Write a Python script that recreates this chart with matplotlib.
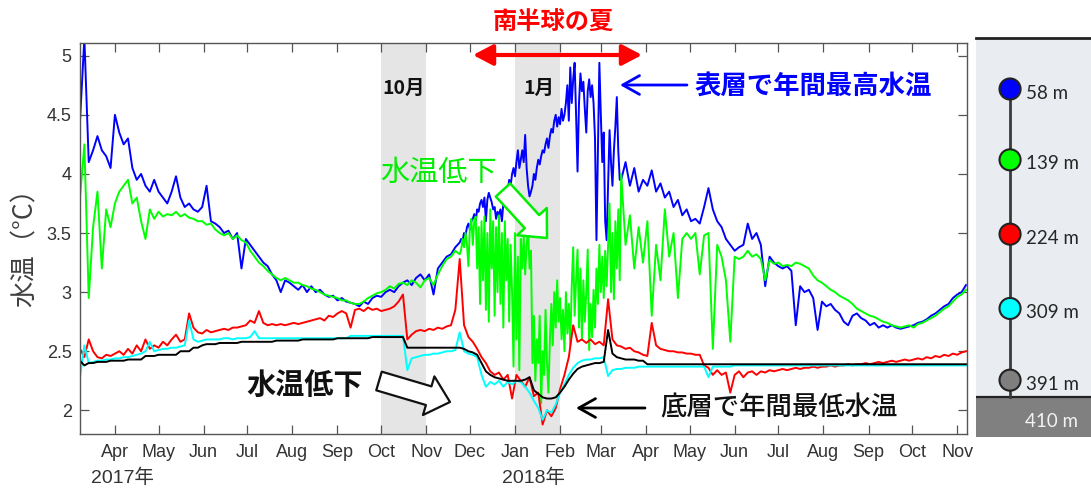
import numpy as np
import matplotlib
matplotlib.use("Agg")
import matplotlib.pyplot as plt
import matplotlib.dates as mdates
from matplotlib.transforms import Affine2D
from matplotlib.patches import FancyArrowPatch

plt.rcParams["font.family"] = ["Liberation Sans", "Noto Sans CJK JP"]

# ---- data: mooring temperature record, one value every 3 days ----
dates = np.arange("2017-03-08", "2018-11-08", 3, dtype="datetime64[D]")

temp_58m = [
    4.45, 5.15, 4.1, 4.2, 4.32, 4.2, 4.15, 4.05, 4.5, 4.35,
    4.25, 4.3, 4.05, 3.95, 4.0, 3.9, 3.85, 3.95, 3.85, 3.8,
    3.75, 3.85, 3.98, 3.8, 3.72, 3.75, 3.7, 3.68, 3.72, 3.9,
    3.6, 3.58, 3.55, 3.5, 3.52, 3.45, 3.5, 3.2, 3.45, 3.4,
    3.35, 3.3, 3.25, 3.22, 3.15, 3.1, 3.0, 3.1, 3.08, 3.05,
    3.02, 3.06, 3.0, 3.05, 3.0, 3.02, 2.98, 2.96, 2.97, 2.93,
    2.95, 2.92, 2.91, 2.9, 2.88, 2.92, 2.9, 2.95, 2.97, 2.96,
    3.0, 3.02, 3.0, 3.05, 3.08, 3.1, 3.06, 3.12, 3.15, 3.1,
    3.15, 2.98, 3.2, 3.25, 3.3, 3.32, 3.38, 3.45, 3.5, 3.58,
    3.62, 3.7, 3.78, 3.6, 3.82, 3.85, 3.8, 3.9, 3.85, 3.92,
    4.0, 4.1, 4.3, 3.85, 4.05, 4.15, 4.25, 4.2, 4.35, 4.5,
    4.45, 4.55, 4.75, 4.9, 4.05, 4.8, 4.3, 4.75, 3.5, 4.93,
    4.2, 3.45, 4.3, 4.65, 3.95, 4.1, 3.9, 4.05, 3.85, 3.95,
    3.9, 4.03, 3.85, 3.92, 3.8, 3.85, 3.72, 3.78, 3.65, 3.7,
    3.6, 3.62, 3.58, 3.72, 3.88, 3.7, 3.6, 3.55, 3.45, 3.4,
    3.35, 3.38, 3.4, 3.58, 3.45, 3.5, 3.4, 3.05, 3.3, 3.25,
    3.22, 3.2, 3.22, 3.18, 2.72, 3.05, 3.0, 3.02, 2.95, 2.68,
    2.92, 2.88, 2.9, 2.85, 2.82, 2.75, 2.72, 2.8, 2.82, 2.78,
    2.76, 2.72, 2.74, 2.7, 2.72, 2.7, 2.72, 2.7, 2.69, 2.7,
    2.71, 2.72, 2.74, 2.75, 2.77, 2.8, 2.82, 2.85, 2.88, 2.9,
    2.95, 2.98, 3.0, 3.06,
]

temp_139m = [
    3.8, 4.25, 2.95, 3.55, 3.85, 3.2, 3.7, 3.55, 3.75, 3.85,
    3.9, 3.95, 3.75, 3.8, 3.6, 3.45, 3.7, 3.62, 3.68, 3.64,
    3.66, 3.65, 3.68, 3.64, 3.66, 3.63, 3.62, 3.6, 3.6, 3.57,
    3.58, 3.53, 3.5, 3.48, 3.5, 3.45, 3.48, 3.44, 3.42, 3.35,
    3.3, 3.25, 3.22, 3.18, 3.15, 3.12, 3.1, 3.12, 3.1, 3.08,
    3.08, 3.06, 3.05, 3.03, 3.02, 3.0, 2.98, 2.97, 2.96, 2.95,
    2.93, 2.93, 2.91, 2.9, 2.9, 2.92, 2.95, 2.97, 2.99, 3.0,
    3.02, 3.05, 3.03, 3.07, 3.08, 3.06, 3.1, 3.08, 3.04, 3.1,
    3.12, 3.06, 3.15, 3.22, 3.28, 3.3, 3.35, 3.42, 3.45, 3.3,
    3.45, 3.25, 2.85, 3.5, 2.6, 3.75, 3.0, 3.6, 2.9, 3.55,
    2.35, 3.7, 3.2, 3.8, 2.9, 2.5, 2.2, 2.6, 2.1, 2.4,
    2.95, 2.3, 2.85, 2.5, 3.1, 2.7, 3.2, 2.9, 3.35, 3.0,
    3.45, 3.1, 3.6, 3.3, 4.0, 3.4, 3.65, 3.2, 3.55, 3.25,
    3.6, 2.8, 3.4, 3.1, 3.7, 3.3, 3.5, 2.95, 3.45, 3.5,
    3.45, 3.5, 3.15, 3.48, 3.5, 2.52, 3.4, 3.3, 3.1, 2.58,
    3.3, 3.28, 3.3, 3.35, 3.3, 3.32, 3.28, 3.1, 3.27, 3.24,
    3.25, 3.22, 3.23, 3.22, 3.25, 3.24, 3.22, 3.2, 3.14, 3.1,
    3.08, 3.05, 3.02, 3.0, 2.97, 2.95, 2.93, 2.9, 2.86, 2.84,
    2.82, 2.8, 2.79, 2.77, 2.75, 2.74, 2.72, 2.71, 2.7, 2.71,
    2.72, 2.7, 2.73, 2.74, 2.76, 2.78, 2.8, 2.83, 2.86, 2.88,
    2.92, 2.96, 2.98, 3.02,
]

# daily values through the austral summer, 2017-11-24 .. 2018-03-14
summer_dates = np.arange("2017-11-24", "2018-03-15", dtype="datetime64[D]")

summer_58m = [
    3.42, 3.45, 3.44, 3.5, 3.48, 3.55, 3.58, 3.53, 3.6, 3.62,
    3.66, 3.6, 3.7, 3.68, 3.75, 3.78, 3.72, 3.8, 3.6, 3.78,
    3.84, 3.8, 3.76, 3.7, 3.72, 3.62, 3.68, 3.65, 3.7, 3.6,
    3.75, 3.82, 3.88, 3.85, 3.95, 3.9, 4.0, 4.05, 3.98, 4.1,
    4.2, 4.05, 4.12, 4.2, 4.1, 4.33, 4.05, 3.9, 3.81, 3.85,
    3.9, 4.0, 3.95, 4.05, 4.12, 4.08, 4.15, 4.2, 4.18, 4.25,
    4.3, 4.22, 4.32, 4.38, 4.35, 4.45, 4.5, 4.4, 4.48, 4.42,
    4.55, 4.45, 4.5, 4.6, 4.75, 4.45, 4.9, 4.6, 4.8, 4.94,
    4.5, 4.02, 4.6, 4.85, 4.7, 4.78, 4.55, 4.35, 4.7, 4.8,
    4.65, 4.75, 4.6, 4.3, 3.44, 4.2, 4.94, 4.5, 4.1, 4.35,
    3.6, 3.44, 3.9, 4.37, 4.1, 3.9, 4.2, 4.4, 4.65, 4.2,
    3.95,
]

summer_139m = [
    3.32, 3.36, 3.45, 3.38, 3.5, 3.4, 3.22, 3.55, 3.62, 3.4,
    3.6, 3.64, 3.2, 3.55, 2.9, 3.6, 3.1, 3.64, 2.85, 3.5,
    2.75, 3.7, 3.2, 3.6, 2.8, 3.55, 3.0, 3.65, 2.9, 3.5,
    2.7, 3.6, 3.1, 3.45, 2.75, 3.4, 3.0, 2.37, 3.5, 2.6,
    3.3, 2.34, 3.45, 3.2, 3.47, 3.15, 3.4, 3.52, 3.2, 3.35,
    2.4, 2.8, 2.25, 2.6, 2.4, 2.8, 2.06, 2.5, 2.3, 2.85,
    2.4, 2.15, 2.6, 2.9, 2.55, 3.0, 2.7, 3.1, 2.75, 2.95,
    2.6, 2.85, 2.5, 3.0, 2.65, 2.9, 2.55, 3.05, 3.38, 2.8,
    3.1, 3.36, 2.7, 3.2, 2.6, 3.1, 2.75, 3.0, 3.36, 2.51,
    2.9, 2.62, 3.02, 2.7, 3.2, 2.9, 3.4, 3.0, 3.3, 2.95,
    3.35, 3.05, 3.4, 3.75, 3.0, 3.5, 2.94, 3.6, 3.2, 3.7,
    3.1,
]

temp_224m = [
    2.52, 2.45, 2.6, 2.5, 2.45, 2.44, 2.47, 2.46, 2.48, 2.5,
    2.47, 2.52, 2.48, 2.55, 2.5, 2.6, 2.52, 2.55, 2.53, 2.58,
    2.55, 2.6, 2.64, 2.58, 2.6, 2.82, 2.7, 2.66, 2.65, 2.68,
    2.66, 2.67, 2.68, 2.69, 2.68, 2.7, 2.7, 2.71, 2.72, 2.76,
    2.74, 2.84, 2.74, 2.72, 2.73, 2.72, 2.73, 2.72, 2.73, 2.74,
    2.73, 2.74, 2.75, 2.76, 2.77, 2.78, 2.76, 2.8, 2.79, 2.82,
    2.84, 2.82, 2.7, 2.85, 2.86, 2.84, 2.87, 2.85, 2.86, 2.84,
    2.85, 2.86, 2.88, 2.92, 2.98, 2.6, 2.64, 2.67, 2.68, 2.67,
    2.69, 2.68, 2.7, 2.69, 2.71, 2.72, 2.85, 3.28, 2.72, 2.62,
    2.58, 2.52, 2.45, 2.4, 2.33, 2.3, 2.32, 2.26, 2.3, 2.1,
    2.3, 2.25, 2.2, 2.28, 2.12, 2.15, 1.88, 2.0, 1.95, 2.02,
    2.18, 2.3, 2.45, 2.72, 2.58, 2.6, 2.57, 2.6, 2.56, 2.58,
    2.55, 2.94, 2.6, 2.55, 2.54, 2.52, 2.53, 2.5, 2.49, 2.47,
    2.46, 2.74, 2.55, 2.52, 2.51, 2.5, 2.5, 2.49, 2.49, 2.48,
    2.48, 2.47, 2.47, 2.38, 2.36, 2.3, 2.34, 2.3, 2.32, 2.15,
    2.3, 2.33, 2.28, 2.32, 2.33, 2.3, 2.33, 2.32, 2.34, 2.33,
    2.34, 2.35, 2.34, 2.35, 2.36, 2.35, 2.36, 2.36, 2.37, 2.36,
    2.37, 2.37, 2.38, 2.37, 2.38, 2.38, 2.39, 2.38, 2.39, 2.39,
    2.4, 2.39, 2.4, 2.41, 2.4, 2.41, 2.42, 2.41, 2.42, 2.43,
    2.42, 2.43, 2.44, 2.43, 2.45, 2.44, 2.46, 2.45, 2.47, 2.46,
    2.48, 2.47, 2.49, 2.5,
]

temp_309m = [
    2.28, 2.55, 2.4, 2.41, 2.42, 2.42, 2.43, 2.43, 2.44, 2.44,
    2.45, 2.45, 2.46, 2.47, 2.48, 2.5, 2.58, 2.5, 2.51, 2.52,
    2.52, 2.53, 2.53, 2.54, 2.55, 2.76, 2.6, 2.58, 2.59, 2.6,
    2.6, 2.6, 2.6, 2.61, 2.61, 2.6, 2.61, 2.61, 2.61, 2.62,
    2.67, 2.61, 2.61, 2.61, 2.61, 2.61, 2.61, 2.61, 2.61, 2.61,
    2.61, 2.61, 2.61, 2.61, 2.61, 2.61, 2.61, 2.61, 2.61, 2.61,
    2.61, 2.61, 2.63, 2.63, 2.63, 2.63, 2.63, 2.63, 2.63, 2.63,
    2.63, 2.63, 2.63, 2.63, 2.63, 2.34, 2.44, 2.45, 2.46, 2.47,
    2.47, 2.48, 2.48, 2.49, 2.5, 2.5, 2.51, 2.66, 2.5, 2.48,
    2.47, 2.45, 2.3, 2.2, 2.24, 2.22, 2.25, 2.2, 2.24, 2.22,
    2.25, 2.24, 2.2, 2.15, 2.08, 2.02, 1.92, 2.0, 1.98, 2.05,
    2.15, 2.22, 2.3, 2.36, 2.4, 2.42, 2.43, 2.43, 2.44, 2.44,
    2.45, 2.29, 2.34, 2.35, 2.35, 2.36, 2.36, 2.36, 2.37, 2.37,
    2.37, 2.37, 2.37, 2.37, 2.37, 2.37, 2.37, 2.37, 2.37, 2.37,
    2.37, 2.37, 2.37, 2.37, 2.28, 2.37, 2.37, 2.37, 2.37, 2.37,
    2.38, 2.38, 2.38, 2.38, 2.38, 2.38, 2.38, 2.38, 2.38, 2.38,
    2.38, 2.38, 2.38, 2.38, 2.38, 2.38, 2.38, 2.38, 2.38, 2.38,
    2.38, 2.38, 2.38, 2.38, 2.38, 2.38, 2.38, 2.38, 2.38, 2.38,
    2.38, 2.38, 2.38, 2.38, 2.38, 2.38, 2.38, 2.38, 2.38, 2.38,
    2.38, 2.38, 2.38, 2.38, 2.38, 2.38, 2.38, 2.38, 2.38, 2.38,
    2.38, 2.38, 2.38, 2.38,
]

temp_391m = [
    2.42, 2.38, 2.4, 2.4, 2.41, 2.41, 2.41, 2.42, 2.42, 2.42,
    2.42, 2.43, 2.43, 2.43, 2.43, 2.46, 2.46, 2.46, 2.47, 2.47,
    2.47, 2.47, 2.47, 2.5, 2.5, 2.5, 2.53, 2.53, 2.55, 2.56,
    2.56, 2.56, 2.57, 2.57, 2.57, 2.57, 2.57, 2.58, 2.58, 2.58,
    2.58, 2.58, 2.58, 2.58, 2.58, 2.59, 2.59, 2.59, 2.59, 2.59,
    2.59, 2.6, 2.6, 2.6, 2.6, 2.6, 2.6, 2.6, 2.6, 2.61,
    2.61, 2.61, 2.61, 2.61, 2.61, 2.61, 2.61, 2.62, 2.62, 2.62,
    2.62, 2.62, 2.62, 2.62, 2.62, 2.53, 2.53, 2.53, 2.53, 2.53,
    2.53, 2.53, 2.53, 2.53, 2.53, 2.53, 2.53, 2.53, 2.52, 2.5,
    2.49, 2.47, 2.4, 2.33, 2.3, 2.28, 2.27, 2.26, 2.25, 2.25,
    2.25, 2.25, 2.26, 2.28, 2.17, 2.14, 2.11, 2.1, 2.1, 2.11,
    2.15, 2.2, 2.26, 2.31, 2.35, 2.37, 2.38, 2.39, 2.4, 2.4,
    2.41, 2.68, 2.48, 2.45, 2.44, 2.43, 2.43, 2.43, 2.42, 2.42,
    2.39, 2.39, 2.39, 2.39, 2.39, 2.39, 2.39, 2.39, 2.39, 2.39,
    2.39, 2.39, 2.39, 2.39, 2.39, 2.39, 2.39, 2.39, 2.39, 2.39,
    2.39, 2.39, 2.39, 2.39, 2.39, 2.39, 2.39, 2.39, 2.39, 2.39,
    2.39, 2.39, 2.39, 2.39, 2.39, 2.39, 2.39, 2.39, 2.39, 2.39,
    2.39, 2.39, 2.39, 2.39, 2.39, 2.39, 2.39, 2.39, 2.39, 2.39,
    2.39, 2.39, 2.39, 2.39, 2.39, 2.39, 2.39, 2.39, 2.39, 2.39,
    2.39, 2.39, 2.39, 2.39, 2.39, 2.39, 2.39, 2.39, 2.39, 2.39,
    2.39, 2.39, 2.39, 2.39,
]

depths = [58, 139, 224, 309, 391]
seabed_depth = 410
line_colors = ["#0000ff", "#00ff00", "#ff0000", "#00ffff", "#000000"]
marker_colors = ["#0000ff", "#00ff00", "#ff0000", "#00ffff", "#7f7f7f"]
shaded_months = [("2017-10-01", "2017-11-01"), ("2018-01-01", "2018-02-01")]
yticks = [2, 2.5, 3, 3.5, 4, 4.5, 5]


def with_daily(coarse, daily):
    """Replace the 3-day values inside the summer window by the daily ones."""
    c = np.asarray(coarse)
    before = dates < summer_dates[0]
    after = dates > summer_dates[-1]
    t = np.concatenate([dates[before], summer_dates, dates[after]])
    v = np.concatenate([c[before], np.asarray(daily), c[after]])
    return t, v


series = [
    with_daily(temp_58m, summer_58m),
    with_daily(temp_139m, summer_139m),
    (dates, temp_224m),
    (dates, temp_309m),
    (dates, temp_391m),
]

# ---- figure ----
W, H = 1091, 488
fig = plt.figure(figsize=(W / 100, H / 100), dpi=100)
px = Affine2D().scale(1, -1).translate(0, H)  # top-left pixel coordinates

ax = fig.add_axes([80 / W, 1 - 434 / H, 886.7 / W, 391.3 / H])
for a, b in shaded_months:
    ax.axvspan(np.datetime64(a), np.datetime64(b), color="#e5e5e5", lw=0, zorder=0)

for (t, v), col in zip(series, line_colors):
    ax.plot(t, v, color=col, lw=1.4)

ax.set_xlim(np.datetime64("2017-03-08"), np.datetime64("2018-11-07T12:00"))
ax.set_ylim(1.8, 5.11)
ax.set_yticks(yticks)
ax.yaxis.set_major_formatter(plt.FormatStrFormatter("%g"))
ax.xaxis.set_major_locator(mdates.MonthLocator())
ax.xaxis.set_major_formatter(mdates.DateFormatter("%b"))
ax.tick_params(direction="in", length=6.5, width=0.9, color="#555555",
               labelcolor="#333333", labelsize=13, top=True, right=True)
ax.tick_params(axis="x", pad=7)
ax.tick_params(axis="y", pad=6)
for s in ax.spines.values():
    s.set_color("#555555")
    s.set_linewidth(1.0)

cjk = ["Noto Sans CJK JP"]
fig.text(25, 241, "水温（°C）", transform=px, rotation=90, ha="center", va="center",
         fontsize=19, color="#404040", family=cjk)
fig.text(122.5, 477.5, "2017年", transform=px, ha="center", va="center",
         fontsize=14, color="#333333")
fig.text(533.5, 477.5, "2018年", transform=px, ha="center", va="center",
         fontsize=14, color="#333333")

# annotations
fig.text(553, 23, "南半球の夏", transform=px, ha="center", va="center",
         fontsize=17.5, color="#ff0000", fontweight="bold", family=cjk)
fig.add_artist(FancyArrowPatch((473, 55), (642, 55), transform=px,
                               arrowstyle="<|-|>,head_length=0.8,head_width=0.42",
                               mutation_scale=15, color="#ff0000", lw=3,
                               shrinkA=0, shrinkB=0))
fig.text(404, 88, "10月", transform=px, ha="center", va="center",
         fontsize=14, fontweight="bold", color="#111111", family=cjk)
fig.text(539, 88, "1月", transform=px, ha="center", va="center",
         fontsize=14, fontweight="bold", color="#111111", family=cjk)

fig.add_artist(FancyArrowPatch((687, 85), (620, 85), transform=px,
                               arrowstyle="->,head_length=0.8,head_width=0.45",
                               mutation_scale=15, color="#0000ff", lw=2,
                               shrinkA=0, shrinkB=0))
fig.text(695, 86, "表層で年間最高水温", transform=px, ha="left", va="center",
         fontsize=19, fontweight="bold", color="#0000ff", family=cjk)

fig.add_artist(FancyArrowPatch((645, 408), (576, 408), transform=px,
                               arrowstyle="->,head_length=0.8,head_width=0.45",
                               mutation_scale=15, color="#000000", lw=2,
                               shrinkA=0, shrinkB=0))
fig.text(660, 408, "底層で年間最低水温", transform=px, ha="left", va="center",
         fontsize=19, fontweight="medium", color="#111111", family=cjk)

fig.text(438, 172.5, "水温低下", transform=px, ha="center", va="center",
         fontsize=21, color="#00ee00", family=cjk)
fig.add_artist(FancyArrowPatch((503, 190), (547, 238), transform=px,
                               arrowstyle="simple,head_length=0.8,head_width=1.45,tail_width=0.7",
                               mutation_scale=20, fc="white", ec="#00ee00", lw=1.8,
                               shrinkA=0, shrinkB=0))

fig.text(304.5, 385, "水温低下", transform=px, ha="center", va="center",
         fontsize=21, fontweight="bold", color="#111111", family=cjk)
fig.add_artist(FancyArrowPatch((379, 381), (450, 402), transform=px,
                               arrowstyle="simple,head_length=0.8,head_width=1.45,tail_width=0.7",
                               mutation_scale=20, fc="white", ec="#111111", lw=1.6,
                               shrinkA=0, shrinkB=0))

# ---- mooring diagram ----
ax2 = fig.add_axes([976 / W, 1 - 437 / H, 115 / W, (437 - 38.3) / H])
ax2.set_xlim(0, 1)
ax2.set_ylim(456, 0)
ax2.set_facecolor("#e9ecf0")
ax2.set_xticks([])
ax2.set_yticks([])
for side in ["left", "right", "bottom"]:
    ax2.spines[side].set_visible(False)
ax2.spines["top"].set_color("#222222")
ax2.spines["top"].set_linewidth(2)

ax2.axhspan(seabed_depth, 456, color="#808080", lw=0)
ax2.axhline(seabed_depth, color="#222222", lw=1.6)
ax2.plot([0.296, 0.296], [depths[0], seabed_depth], color="#3a3a3a", lw=2, zorder=2)
ax2.scatter([0.296] * len(depths), depths, s=230, c=marker_colors,
            edgecolors="#222222", linewidths=1.5, zorder=3)
for d in depths:
    ax2.annotate(f"{d} m", (0.435, d), xytext=(0, -4), textcoords="offset pixels",
                 ha="left", va="center", fontsize=13.5, color="#262626", family="Lato")
ax2.text(0.654, 438, f"{seabed_depth} m", ha="center", va="center",
         fontsize=13.5, color="#f2f2f2", family="Lato")

fig.savefig("out.png", dpi=100)
